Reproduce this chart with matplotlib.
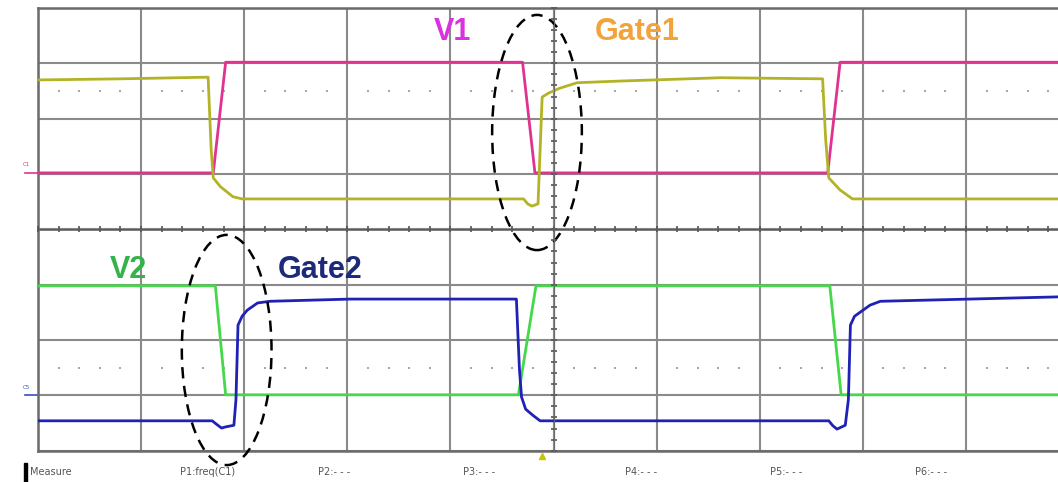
import matplotlib
matplotlib.use('Agg')
import matplotlib.pyplot as plt
import numpy as np
from matplotlib.patches import Ellipse, Rectangle
from matplotlib.ticker import MultipleLocator

# time axis in divisions, amplitude in divisions (8 div tall screen, center = 0)
v1_t = [0.0, 1.70, 1.82, 4.70, 4.82, 7.66, 7.78, 9.9]
v1_v = [1.02, 1.02, 3.02, 3.02, 1.02, 1.02, 3.02, 3.02]

gate1_t = [0.0, 0.80, 1.65, 1.68, 1.70, 1.77, 1.89, 1.98, 4.71, 4.75, 4.79, 4.85,
           4.87, 4.89, 4.95, 5.06, 5.23, 5.65, 6.62, 7.61, 7.64, 7.67, 7.78, 7.90, 9.9]
gate1_v = [2.70, 2.72, 2.75, 1.43, 0.93, 0.77, 0.59, 0.55, 0.55, 0.46, 0.42, 0.46,
           1.43, 2.39, 2.46, 2.55, 2.65, 2.68, 2.74, 2.72, 1.62, 0.93, 0.71, 0.55, 0.55]

v2_t = [0.0, 1.72, 1.82, 4.66, 4.83, 7.68, 7.79, 9.9]
v2_v = [-1.02, -1.02, -2.99, -2.99, -1.02, -1.02, -2.99, -2.99]

gate2_t = [0.0, 1.69, 1.73, 1.78, 1.82, 1.90, 1.92, 1.94, 1.98, 2.03, 2.13, 2.25, 3.03,
           4.64, 4.67, 4.69, 4.73, 4.80, 4.87, 7.67, 7.71, 7.75, 7.83, 7.86, 7.88,
           7.92, 8.07, 8.17, 9.9]
gate2_v = [-3.46, -3.46, -3.52, -3.59, -3.57, -3.54, -3.08, -1.73, -1.57, -1.46, -1.33, -1.30, -1.26,
           -1.26, -2.54, -3.03, -3.25, -3.36, -3.46, -3.46, -3.55, -3.61, -3.54, -3.08, -1.73,
           -1.57, -1.37, -1.30, -1.22]

# annotations
labels = ['V1', 'Gate1', 'V2', 'Gate2']
label_pos = [(4.02, 3.57), (5.81, 3.57), (0.88, -0.74), (2.74, -0.74)]
label_colors = ['#d932df', '#f2a33a', '#35b24a', '#1d2a7a']

ellipse_centers = [(4.84, 1.75), (1.83, -2.18)]
ellipse_sizes = [(0.87, 4.25), (0.87, 4.16)]

ref_levels = [2.5, -2.5]
trigger_t = 4.89

measure_labels = ['Measure', 'P1:freq(C1)', 'P2:- - -', 'P3:- - -', 'P4:- - -', 'P5:- - -', 'P6:- - -']
measure_x = [30, 180, 318, 463, 625, 770, 915]

W, H = 1058, 482
fig = plt.figure(figsize=(W / 100, H / 100), dpi=100)
left, top, bottom = 38, 8, 450.7
xdiv = 103.1
ax = fig.add_axes([left / W, (H - bottom) / H, (W - left) / W, (bottom - top) / H])
ax.set_xlim(0, (W - left) / xdiv)
ax.set_ylim(-4, 4)

grid_col = '#8a8a8a'
ax.set_xticks(np.arange(0, 10))
ax.set_yticks(np.arange(-4, 5))
ax.grid(color=grid_col, lw=1.5)
ax.tick_params(length=0, labelleft=False, labelbottom=False)
for s in ['left', 'top', 'bottom']:
    ax.spines[s].set_color('#6a6a6a')
    ax.spines[s].set_linewidth(1.8)
ax.spines['right'].set_visible(False)
ax.axhline(0, color='#5a5a5a', lw=1.8, zorder=1)
ax.axvline(5, color='#8a8a8a', lw=1.5, zorder=1)

# graticule center ticks
cx = fig.add_axes(ax.get_position(), frameon=True)
cx.patch.set_visible(False)
cx.set_xlim(ax.get_xlim())
cx.set_ylim(ax.get_ylim())
cx.spines['left'].set_position(('data', 5))
cx.spines['bottom'].set_position(('data', 0))
cx.spines['top'].set_visible(False)
cx.spines['right'].set_visible(False)
cx.spines['left'].set_color('#6a6a6a')
cx.spines['bottom'].set_color('#5a5a5a')
cx.xaxis.set_major_locator(MultipleLocator(1))
cx.yaxis.set_major_locator(MultipleLocator(1))
cx.xaxis.set_minor_locator(MultipleLocator(0.2))
cx.yaxis.set_minor_locator(MultipleLocator(0.2))
cx.tick_params(which='both', direction='inout', length=5, width=1.2, color='#555555',
               labelleft=False, labelbottom=False)

# reference dotted rows
dots = np.array([d for d in np.arange(0.2, 9.9, 0.2) if abs(d - round(d)) > 0.05])
for lv in ref_levels:
    ax.plot(dots, np.full(len(dots), lv), ls='none', marker='s', ms=1.6,
            color='#a8a8a8', mew=0)

ax.plot(v1_t, v1_v, color='#e2328f', lw=2.0, zorder=3)
ax.plot(gate1_t, gate1_v, color='#b3b327', lw=2.0, zorder=3)
ax.plot(v2_t, v2_v, color='#45d84a', lw=2.0, zorder=3)
ax.plot(gate2_t, gate2_v, color='#1f22b5', lw=2.0, zorder=3)

for (cxy, (w, h)) in zip(ellipse_centers, ellipse_sizes):
    ax.add_patch(Ellipse(cxy, w, h, fill=False, ec='black', lw=1.8,
                         ls=(0, (4.5, 3)), zorder=4, clip_on=False))

for txt, (x, y), c in zip(labels, label_pos, label_colors):
    ax.text(x, y, txt, color=c, fontsize=22, fontweight='bold',
            family='Liberation Sans', ha='center', va='center', zorder=5)

# channel markers
ax.text(-0.11, 1.12, 'C1', color='#e2328f', fontsize=4, ha='center', va='bottom', clip_on=False)
ax.plot([-0.13, 0.0], [1.02, 1.02], color='#e2328f', lw=1.2, clip_on=False)
ax.text(-0.11, -2.9, 'C5', color='#3050c0', fontsize=4, ha='center', va='bottom', clip_on=False)
ax.plot([-0.13, 0.0], [-2.99, -2.99], color='#3050c0', lw=1.2, clip_on=False)

ax.plot([trigger_t], [-4.1], marker='^', ms=5, color='#c8c400', clip_on=False)

for txt, x in zip(measure_labels, measure_x):
    fig.text(x / W, 1 - 472 / H, txt, fontsize=7, color='#555555', va='center', ha='left')
fig.patches.append(Rectangle((24 / W, 0), 2.5 / W, 19 / H, transform=fig.transFigure,
                             color='black'))

fig.savefig('out.png', dpi=100)
